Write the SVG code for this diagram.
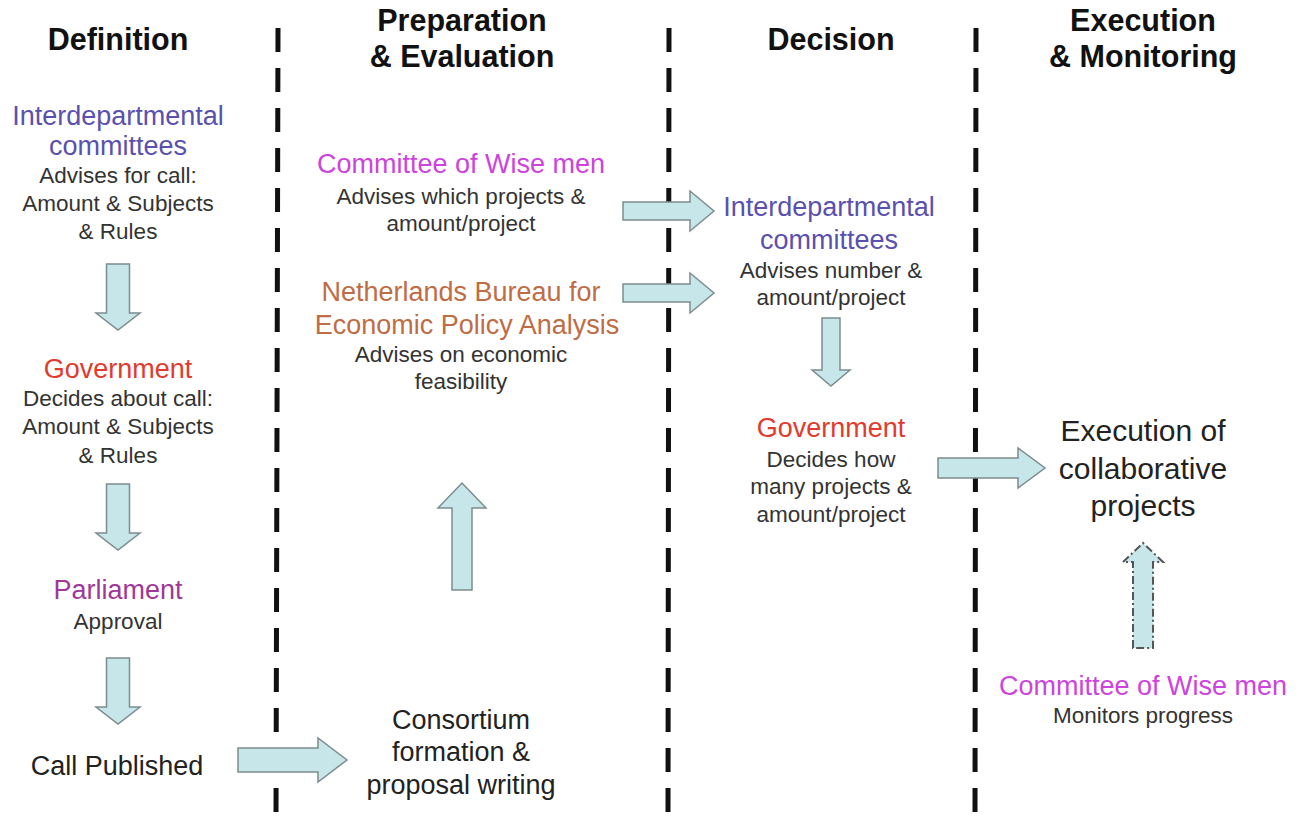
<svg xmlns="http://www.w3.org/2000/svg" width="1299" height="819" viewBox="0 0 1299 819">
<style>
text{font-family:"Liberation Sans",Arial,sans-serif;text-anchor:middle}
.h{font-size:30.5px;font-weight:bold;fill:#111}
.t{font-size:27px}
.d{font-size:22.5px;fill:#333}
.b{font-size:27px;fill:#222}
.blue{fill:#5a50b0}
.red{fill:#e23a2c}
.pur{fill:#a0389a}
.mag{fill:#cc44dd}
.brn{fill:#c06c44}
.sep{stroke:#111;stroke-width:5;stroke-dasharray:24 16;fill:none}
.arr{fill:#c6e6ea;stroke:#7d8c8e;stroke-width:1.5}
.arrd{fill:#c6e6ea;stroke:#555;stroke-width:2;stroke-dasharray:8 3 2 3}
</style>
<rect width="1299" height="819" fill="#fff"/>
<g id="separators">
<line class="sep" x1="278" y1="28" x2="276" y2="815"/>
<line class="sep" x1="669" y1="28" x2="668" y2="815"/>
<line class="sep" x1="976" y1="28" x2="975" y2="815"/>
</g>
<g id="headers">
<text class="h" x="118" y="50">Definition</text>
<text class="h" x="462" y="31">Preparation</text>
<text class="h" x="462" y="67">&amp; Evaluation</text>
<text class="h" x="831" y="50">Decision</text>
<text class="h" x="1143" y="31">Execution</text>
<text class="h" x="1143" y="67">&amp; Monitoring</text>
</g>
<g id="connectors">
<path class="arr" d="M106.5,264 H129.5 V313 H140 L118,330 L96,313 H106.5 Z"/>
<path class="arr" d="M106.5,484 H129.5 V533 H140 L118,550 L96,533 H106.5 Z"/>
<path class="arr" d="M106.5,658 H129.5 V707 H140 L118,724 L96,707 H106.5 Z"/>
<path class="arr" d="M238,748 H318 V738 L347,760 L318,782 V772 H238 Z"/>
<path class="arr" d="M452,590 V508 H438 L462,483 L486,508 H472 V590 Z"/>
<path class="arr" d="M623,202 H690 V191 L714,211 L690,231 V220 H623 Z"/>
<path class="arr" d="M623,284 H690 V273 L714,293 L690,313 V302 H623 Z"/>
<path class="arr" d="M822,318 H840 V370 H850 L831,386 L812,370 H822 Z"/>
<path class="arr" d="M938,458 H1018 V448 L1045,468 L1018,488 V478 H938 Z"/>
<path class="arrd" d="M1133,648 V562 H1123 L1143,543 L1163,562 H1153 V648 Z"/>
</g>
<g id="def-committees">
<text class="t blue" x="118" y="125">Interdepartmental</text>
<text class="t blue" x="118" y="155">committees</text>
<text class="d" x="118" y="183">Advises for call:</text>
<text class="d" x="118" y="211">Amount &amp; Subjects</text>
<text class="d" x="118" y="239">&amp; Rules</text>
</g>
<g id="def-government">
<text class="t red" x="118" y="378">Government</text>
<text class="d" x="118" y="406">Decides about call:</text>
<text class="d" x="118" y="434">Amount &amp; Subjects</text>
<text class="d" x="118" y="463">&amp; Rules</text>
</g>
<g id="def-parliament">
<text class="t pur" x="118" y="599">Parliament</text>
<text class="d" x="118" y="629">Approval</text>
</g>
<g id="def-call">
<text class="b" x="117" y="775">Call Published</text>
</g>
<g id="prep-wise">
<text class="t mag" x="461" y="173">Committee of Wise men</text>
<text class="d" x="461" y="204">Advises which projects &amp;</text>
<text class="d" x="461" y="231">amount/project</text>
</g>
<g id="prep-bureau">
<text class="t brn" x="461" y="301">Netherlands Bureau for</text>
<text class="t brn" x="467" y="334">Economic Policy Analysis</text>
<text class="d" x="461" y="362">Advises on economic</text>
<text class="d" x="461" y="389">feasibility</text>
</g>
<g id="prep-consortium">
<text class="b" x="461" y="729">Consortium</text>
<text class="b" x="461" y="761">formation &amp;</text>
<text class="b" x="461" y="794">proposal writing</text>
</g>
<g id="dec-committees">
<text class="t blue" x="829" y="216">Interdepartmental</text>
<text class="t blue" x="829" y="249">committees</text>
<text class="d" x="831" y="278">Advises number &amp;</text>
<text class="d" x="831" y="305">amount/project</text>
</g>
<g id="dec-government">
<text class="t red" x="831" y="437">Government</text>
<text class="d" x="831" y="467">Decides how</text>
<text class="d" x="831" y="494">many projects &amp;</text>
<text class="d" x="831" y="522">amount/project</text>
</g>
<g id="exec-projects">
<text style="font-size:30px;fill:#222" x="1143" y="441">Execution of</text>
<text style="font-size:30px;fill:#222" x="1143" y="479">collaborative</text>
<text style="font-size:30px;fill:#222" x="1143" y="516">projects</text>
</g>
<g id="exec-wise">
<text class="t mag" x="1143" y="695">Committee of Wise men</text>
<text class="d" x="1143" y="723">Monitors progress</text>
</g>
</svg>
